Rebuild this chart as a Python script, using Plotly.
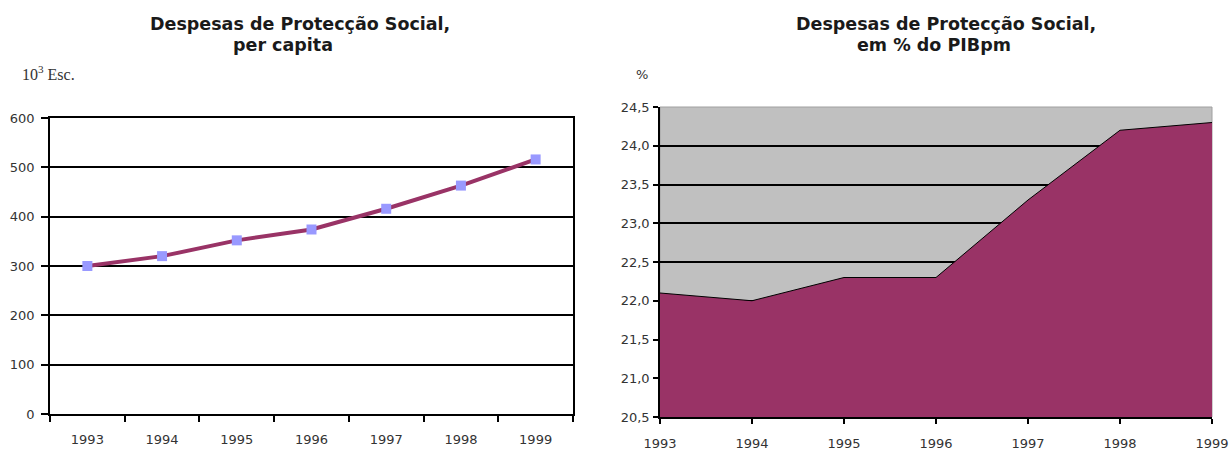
import plotly.graph_objects as go

years = ["1993", "1994", "1995", "1996", "1997", "1998", "1999"]
per_capita = [300, 320, 352, 374, 416, 463, 516]
pct_pib = [22.1, 22.0, 22.3, 22.3, 23.3, 24.2, 24.3]

left_yticks = [0, 100, 200, 300, 400, 500, 600]
right_yticks = [20.5, 21.0, 21.5, 22.0, 22.5, 23.0, 23.5, 24.0, 24.5]
right_yticktext = ["20,5", "21,0", "21,5", "22,0", "22,5", "23,0", "23,5", "24,0", "24,5"]

title_left = ["Despesas de Protecção Social,", "per capita"]
title_right = ["Despesas de Protecção Social,", "em % do PIBpm"]
unit_left = "10<sup>3</sup> Esc."
unit_right = "%"

W, H = 1229, 450
TICKFONT = dict(family="DejaVu Sans", size=13, color="#333333")

fig = go.Figure()

fig.add_trace(go.Scatter(
    x=years, y=per_capita, mode="lines+markers",
    line=dict(color="#993366", width=4),
    marker=dict(symbol="square", size=10, color="#9999FF", line=dict(width=0)),
    xaxis="x", yaxis="y", showlegend=False, hoverinfo="x+y",
))

fig.add_trace(go.Scatter(
    x=[int(y) for y in years], y=pct_pib, mode="lines",
    fill="tozeroy", fillcolor="#993366",
    line=dict(color="black", width=1),
    xaxis="x2", yaxis="y2", showlegend=False, hoverinfo="x+y",
))

fig.update_layout(
    width=W, height=H,
    margin=dict(l=0, r=0, t=0, b=0, autoexpand=False),
    paper_bgcolor="white",
    plot_bgcolor="white",
    xaxis=dict(
        domain=[50 / W, 573 / W], anchor="y", automargin=False,
        type="category", range=[-0.5, 6.5], tickson="boundaries",
        ticks="outside", ticklen=6, tickwidth=1.5, tickcolor="black",
        showline=True, linecolor="black", linewidth=1.5, mirror=True,
        showgrid=False, tickfont=TICKFONT, ticklabelstandoff=13,
    ),
    yaxis=dict(
        domain=[36 / H, 332 / H], anchor="x", automargin=False,
        range=[0, 600], tickvals=left_yticks,
        ticks="outside", ticklen=7, tickwidth=1.5, tickcolor="black",
        showline=True, linecolor="black", linewidth=1.5, mirror=True,
        showgrid=True, gridcolor="black", gridwidth=1.5, zeroline=False,
        tickfont=TICKFONT, ticklabelstandoff=4,
    ),
    xaxis2=dict(
        domain=[660 / W, 1212 / W], anchor="y2", automargin=False,
        range=[1993, 1999], tickvals=[int(y) for y in years], ticktext=years,
        ticks="outside", ticklen=5, tickwidth=1.5, tickcolor="black",
        showline=True, linecolor="black", linewidth=1.5,
        showgrid=False, zeroline=False, tickfont=TICKFONT, ticklabelstandoff=9,
    ),
    yaxis2=dict(
        domain=[33 / H, 343 / H], anchor="x2", automargin=False,
        range=[20.5, 24.5], tickvals=right_yticks, ticktext=right_yticktext,
        ticks="outside", ticklen=5, tickwidth=1.5, tickcolor="black",
        showline=True, linecolor="black", linewidth=1.5,
        showgrid=True, gridcolor="black", gridwidth=1.5, zeroline=False,
        tickfont=TICKFONT, ticklabelstandoff=1,
    ),
)

# grey plot background of the right panel
fig.add_shape(type="rect", xref="x2 domain", yref="y2 domain",
              x0=0, x1=1, y0=0, y1=1, layer="below",
              fillcolor="#C0C0C0", line=dict(color="#a0a0a0", width=1))

TFONT = dict(family="DejaVu Sans", size=17.5, color="#1a1a1a", weight="bold")
ann = [
    dict(text=title_left[0], x=300 / W, y=1 - 24 / H, font=TFONT),
    dict(text=title_left[1], x=283 / W, y=1 - 45 / H, font=TFONT),
    dict(text=title_right[0], x=946 / W, y=1 - 24 / H, font=TFONT),
    dict(text=title_right[1], x=934 / W, y=1 - 45 / H, font=TFONT),
    dict(text=unit_left, x=20 / W, y=1 - 73 / H, xanchor="left",
         font=dict(family="Liberation Serif", size=16, color="#333333")),
    dict(text=unit_right, x=642 / W, y=1 - 75 / H,
         font=dict(family="DejaVu Sans", size=13, color="#333333")),
]
for a in ann:
    a.setdefault("xanchor", "center")
    fig.add_annotation(xref="paper", yref="paper", yanchor="middle",
                       showarrow=False, **a)

fig.write_html("out.html")
